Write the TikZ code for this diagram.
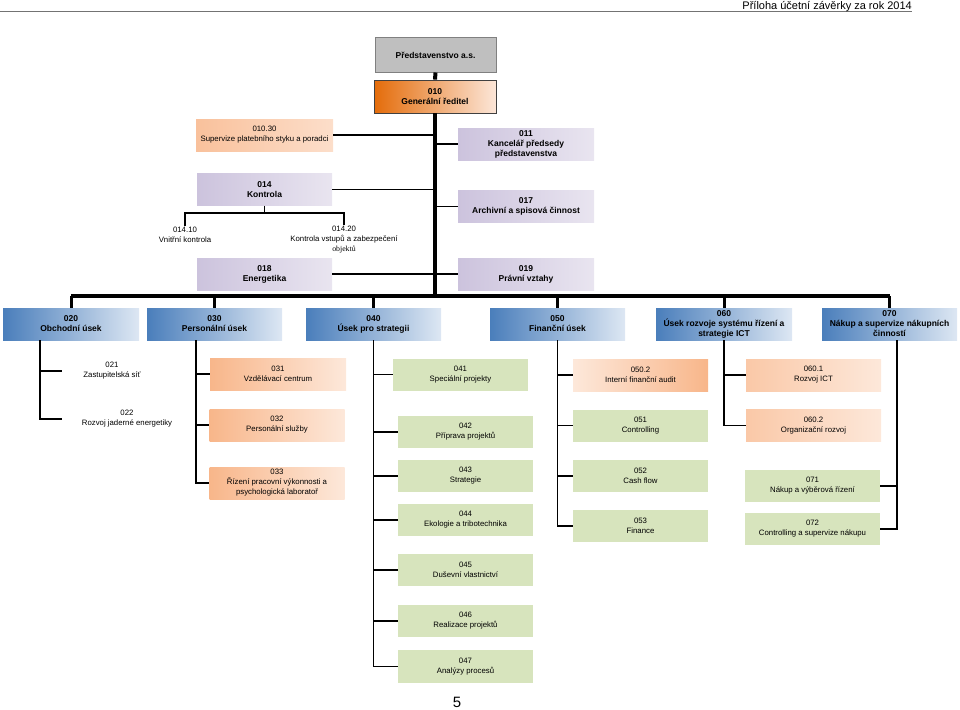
\documentclass[tikz,border=0pt]{standalone}
\usepackage{fontspec}
\setmainfont{Liberation Sans}
\newfontfamily\objfont{Liberation Serif}

\definecolor{boardfill}{HTML}{BFBFBF}
\definecolor{boardline}{HTML}{808080}
\definecolor{ceodark}{HTML}{E46C0A}
\definecolor{ceolight}{HTML}{FCE6D8}
\definecolor{lavdark}{HTML}{CCC3DD}
\definecolor{lavlight}{HTML}{E9E5F0}
\definecolor{bluedark}{HTML}{4A7EBB}
\definecolor{bluelight}{HTML}{DDE7F3}
\definecolor{pchdark}{HTML}{F8B68A}
\definecolor{pchlight}{HTML}{FDE8DA}
\definecolor{sage}{HTML}{D7E4BD}

\tikzset{
  unit/.style={minimum width=135pt, minimum height=32pt, inner sep=1pt, align=center,
    font=\fontsize{7.8}{10}\selectfont},
  mgmt/.style={unit, font=\fontsize{8.5}{10}\selectfont\bfseries},
  boardbox/.style={mgmt, draw=boardline, line width=1pt, fill=boardfill,
    minimum width=121pt, minimum height=34pt},
  ceobox/.style={mgmt, draw=black!75, line width=0.8pt, left color=ceodark, right color=ceolight,
    minimum width=122pt, minimum height=33pt},
  lavbox/.style={mgmt, left color=lavdark, right color=lavlight},
  bluebox/.style={mgmt, left color=bluedark, right color=bluelight},
  peachbox/.style={unit, left color=pchdark, right color=pchlight},
  peachrev/.style={unit, left color=pchlight, right color=pchdark},
  sagebox/.style={unit, fill=sage},
  plain/.style={unit, minimum width=0pt, minimum height=0pt},
  trunk/.style={line width=4pt},
  drop/.style={line width=3pt},
  branch/.style={line width=1.6pt},
}

\begin{document}
\begin{tikzpicture}[x=1pt,y=-1pt]
\useasboundingbox (0,0) rectangle (960,709);

% header
\draw[black!55, line width=1pt] (0,11.5) -- (912,11.5);
\node[anchor=base east, inner sep=0pt, font=\fontsize{11}{13}\selectfont] (hdr) at (912,10) {Příloha účetní závěrky za rok 2014};

% top management
\node[boardbox] (n000) at (435.5,55) {Představenstvo a.s.};
\node[ceobox] (n010) at (435,96.5) {010\\Generální ředitel};
\node[peachbox, minimum width=137pt, left color=pchdark!85, right color=pchlight!80!pchdark] (n01030) at (264.5,135) {010.30\\Supervize platebního styku a poradci};
\node[lavbox, minimum width=136pt] (n011) at (526,144) {011\\Kancelář předsedy\\představenstva};
\node[lavbox] (n014) at (264.5,189.5) {014\\Kontrola};
\node[lavbox, minimum width=136pt] (n017) at (526,206.5) {017\\Archivní a spisová činnost};
\node[plain] (n01410) at (185,235) {014.10\\Vnitřní kontrola};
\node[plain] (n01420) at (344,239.5) {014.20\\Kontrola vstupů a zabezpečení\\{\objfont objektů}};
\node[lavbox] (n018) at (264.5,274) {018\\Energetika};
\node[lavbox, minimum width=136pt] (n019) at (526,274) {019\\Právní vztahy};

\coordinate (bus) at (435,296);
\coordinate (fork) at (264.5,213);

\draw[trunk] (n000.south) -- (n010.north);
\draw[trunk] (n010.south) -- (bus);
\draw[branch] (n01030.east) -- (n01030.east -| bus);
\draw[branch] (n011.west) -- (n011.west -| bus);
\draw[branch] (n014.east) -- (n014.east -| bus);
\draw[branch] (n017.west) -- (n017.west -| bus);
\draw[branch] (n018.east) -- (n018.east -| bus);
\draw[branch] (n019.west) -- (n019.west -| bus);
\draw[branch] (n014.south) -- (fork);
\draw[branch] (n01410.north) |- (fork) -| (n01420.north);

% divisions
\node[bluebox, minimum width=136pt] (n020) at (71,324) {020\\Obchodní úsek};
\node[bluebox] (n030) at (214.5,324) {030\\Personální úsek};
\node[bluebox] (n040) at (373.5,324) {040\\Úsek pro strategii};
\node[bluebox] (n050) at (557.5,324) {050\\Finanční úsek};
\node[bluebox, minimum width=136pt] (n060) at (724,324) {060\\Úsek rozvoje systému řízení a\\strategie ICT};
\node[bluebox] (n070) at (889.5,324) {070\\Nákup a supervize nákupních\\činností};

\draw[trunk] (n020.north |- bus) -- (n070.north |- bus);
\foreach \d in {020,030,040,050,060,070}
  \draw[drop] (n\d.north) -- (n\d.north |- bus);

% 020
\node[plain, minimum width=100pt] (n021) at (112,371) {021\\Zastupitelská síť};
\node[plain, minimum width=130pt] (n022) at (127,419) {022\\Rozvoj jaderné energetiky};
\coordinate (col020) at (40,340);
\draw[branch] (col020) |- (n022.west);
\draw[branch] (col020 |- n021.west) -- (n021.west);

% 030
\node[peachbox, minimum width=136pt] (n031) at (278,374) {031\\Vzdělávací centrum};
\node[peachbox] (n032) at (277,425) {032\\Personální služby};
\node[peachbox] (n033) at (277,483) {033\\Řízení pracovní výkonnosti a\\psychologická laboratoř};
\coordinate (col030) at (196,340);
\draw[branch] (col030) |- (n033.west);
\foreach \n in {031,032}
  \draw[branch] (col030 |- n\n.west) -- (n\n.west);

% 040
\node[sagebox] (n041) at (460.5,374.5) {041\\Speciální projekty};
\node[sagebox] (n042) at (465.5,432) {042\\Příprava projektů};
\node[sagebox] (n043) at (465.5,476) {043\\Strategie};
\node[sagebox] (n044) at (465.5,520) {044\\Ekologie a tribotechnika};
\node[sagebox] (n045) at (465.5,570) {045\\Duševní vlastnictví};
\node[sagebox] (n046) at (465.5,621) {046\\Realizace projektů};
\node[sagebox, minimum height=33pt] (n047) at (465.5,666.5) {047\\Analýzy procesů};
\draw[branch] (n040.south) |- (n047.west);
\foreach \n in {041,042,043,044,045,046}
  \draw[branch] (n040.south |- n\n.west) -- (n\n.west);

% 050
\node[peachrev] (n0502) at (640.5,375) {050.2\\Interní finanční audit};
\node[sagebox] (n051) at (640.5,425.5) {051\\Controlling};
\node[sagebox] (n052) at (640.5,476) {052\\Cash flow};
\node[sagebox] (n053) at (640.5,526) {053\\Finance};
\draw[branch] (n050.south) |- (n053.west);
\foreach \n in {0502,051,052}
  \draw[branch] (n050.south |- n\n.west) -- (n\n.west);

% 060
\node[peachbox, left color=pchdark!75, right color=pchlight] (n0601) at (813.5,375) {060.1\\Rozvoj ICT};
\node[peachbox, left color=pchdark!75, right color=pchlight] (n0602) at (813.5,425.5) {060.2\\Organizační rozvoj};
\draw[branch] (n060.south) |- (n0602.west);
\draw[branch] (n060.south |- n0601.west) -- (n0601.west);

% 070
\node[sagebox] (n071) at (812.5,486) {071\\Nákup a výběrová řízení};
\node[sagebox] (n072) at (812.5,529) {072\\Controlling a supervize nákupu};
\coordinate (col070) at (897,340);
\draw[branch] (col070) |- (n072.east);
\draw[branch] (col070 |- n071.east) -- (n071.east);

% page number
\node[font=\fontsize{15}{16}\selectfont] (pg) at (457,702) {5};
\end{tikzpicture}
\end{document}
